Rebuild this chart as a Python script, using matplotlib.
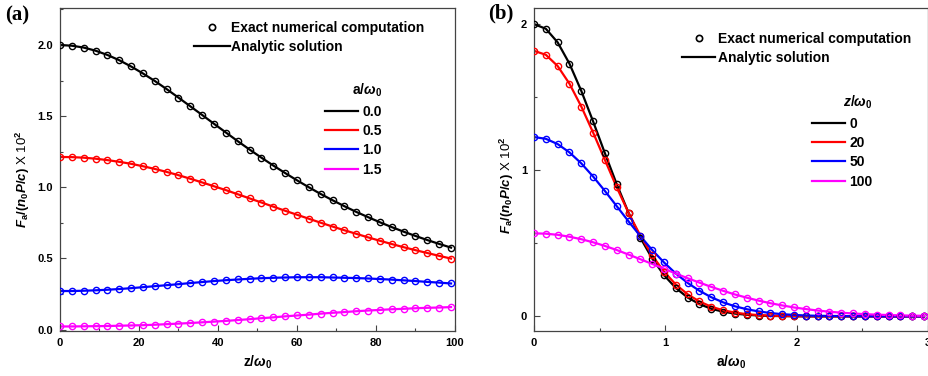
import numpy as np
import matplotlib
matplotlib.use('Agg')
import matplotlib.pyplot as plt
from matplotlib.lines import Line2D
from matplotlib.ticker import MultipleLocator

plt.rcParams['font.family'] = ['Liberation Sans', 'DejaVu Sans']
plt.rcParams['font.weight'] = 'bold'
plt.rcParams['mathtext.fontset'] = 'custom'
plt.rcParams['mathtext.rm'] = 'Liberation Sans:bold'
plt.rcParams['mathtext.it'] = 'Liberation Sans:italic:bold'
plt.rcParams['mathtext.bf'] = 'Liberation Sans:bold'

# ---- panel (a): force vs z/w0 for several a/w0 ----
z_pos = [0, 3, 6, 9, 12, 15, 18, 21, 24, 27, 30, 33, 36, 39, 42, 45, 48,
         51, 54, 57, 60, 63, 66, 69, 72, 75, 78, 81, 84, 87, 90, 93, 96, 99]
a_labels = ['0.0', '0.5', '1.0', '1.5']
fa_a00 = [2.000, 1.995, 1.982, 1.960, 1.930, 1.893, 1.849, 1.800, 1.747, 1.690,
          1.630, 1.569, 1.508, 1.446, 1.385, 1.324, 1.265, 1.208, 1.153, 1.100,
          1.049, 1.000, 0.953, 0.909, 0.867, 0.827, 0.790, 0.754, 0.720, 0.688,
          0.658, 0.629, 0.602, 0.576]
fa_a05 = [1.213, 1.212, 1.208, 1.201, 1.191, 1.179, 1.165, 1.148, 1.129, 1.108,
          1.085, 1.060, 1.034, 1.007, 0.980, 0.951, 0.922, 0.893, 0.864, 0.835,
          0.807, 0.779, 0.751, 0.724, 0.698, 0.673, 0.648, 0.624, 0.601, 0.579,
          0.558, 0.538, 0.518, 0.499]
fa_a10 = [0.271, 0.271, 0.273, 0.276, 0.280, 0.285, 0.291, 0.298, 0.305, 0.312,
          0.319, 0.327, 0.334, 0.341, 0.347, 0.352, 0.357, 0.361, 0.364, 0.366,
          0.368, 0.368, 0.368, 0.366, 0.364, 0.362, 0.359, 0.355, 0.351, 0.346,
          0.341, 0.335, 0.330, 0.324]
fa_a15 = [0.022, 0.022, 0.023, 0.024, 0.025, 0.027, 0.029, 0.031, 0.034, 0.038,
          0.042, 0.046, 0.051, 0.056, 0.061, 0.067, 0.073, 0.080, 0.086, 0.093,
          0.099, 0.105, 0.112, 0.118, 0.123, 0.129, 0.134, 0.138, 0.143, 0.146,
          0.150, 0.153, 0.155, 0.158]

# ---- panel (b): force vs a/w0 for several z/w0 ----
a_pos = [0.00, 0.09, 0.18, 0.27, 0.36, 0.45, 0.54, 0.63, 0.72, 0.81, 0.90,
         0.99, 1.08, 1.17, 1.26, 1.35, 1.44, 1.53, 1.62, 1.71, 1.80, 1.89,
         1.98, 2.07, 2.16, 2.25, 2.34, 2.43, 2.52, 2.61, 2.70, 2.79, 2.88, 2.97]
z_labels = ['0', '20', '50', '100']
fb_z0 = [2.000, 1.968, 1.875, 1.729, 1.543, 1.334, 1.116, 0.904, 0.709, 0.538,
         0.396, 0.282, 0.194, 0.129, 0.084, 0.052, 0.032, 0.019, 0.011, 0.006,
         0.003, 0.002, 0.001, 0.000, 0.000, 0.000, 0.000, 0.000, 0.000, 0.000,
         0.000, 0.000, 0.000, 0.000]
fb_z20 = [1.817, 1.790, 1.713, 1.592, 1.436, 1.258, 1.070, 0.883, 0.708, 0.552,
          0.417, 0.306, 0.218, 0.151, 0.102, 0.066, 0.042, 0.026, 0.015, 0.009,
          0.005, 0.003, 0.002, 0.001, 0.000, 0.000, 0.000, 0.000, 0.000, 0.000,
          0.000, 0.000, 0.000, 0.000]
fb_z50 = [1.227, 1.215, 1.179, 1.122, 1.047, 0.957, 0.858, 0.754, 0.650, 0.549,
          0.454, 0.369, 0.293, 0.229, 0.175, 0.131, 0.096, 0.069, 0.049, 0.034,
          0.023, 0.015, 0.010, 0.006, 0.004, 0.003, 0.002, 0.001, 0.001, 0.000,
          0.000, 0.000, 0.000, 0.000]
fb_z100 = [0.568, 0.566, 0.558, 0.545, 0.528, 0.507, 0.482, 0.454, 0.423, 0.391,
           0.359, 0.326, 0.293, 0.261, 0.231, 0.202, 0.175, 0.150, 0.128, 0.108,
           0.090, 0.075, 0.061, 0.050, 0.040, 0.032, 0.025, 0.020, 0.015, 0.012,
           0.009, 0.007, 0.005, 0.004]

colors = ['black', 'red', 'blue', 'magenta']
W, H = 929, 376


def style_axes(ax):
    for sp in ax.spines.values():
        sp.set_color('#444444')
        sp.set_linewidth(0.9)
    ax.tick_params(which='both', direction='in', top=False, right=False,
                   labelsize=8, pad=5, color='#444444')
    ax.tick_params(which='major', length=4.5, width=0.8)
    ax.tick_params(which='minor', length=2.5, width=0.8)
    for lab in ax.get_xticklabels() + ax.get_yticklabels():
        lab.set_fontweight('bold')


def plot_curves(ax, x, series):
    for y, c in zip(series, colors):
        ax.plot(x, y, '-', color=c, lw=1.6, zorder=2)
        ax.plot(x, y, 'o', mfc='none', mec=c, ms=4.5, mew=1.0, zorder=3)


def add_legends(ax, title, labels, p1, p2, hl1, htp1):
    h1 = [Line2D([], [], ls='none', marker='o', mfc='none', mec='black', ms=4.5, mew=1.2),
          Line2D([], [], color='black', lw=1.6)]
    leg1 = ax.legend(h1, ['Exact numerical computation', 'Analytic solution'],
                     loc='upper left', bbox_to_anchor=(p1[0] / W, 1 - p1[1] / H),
                     bbox_transform=ax.figure.transFigure, frameon=False,
                     borderpad=0, borderaxespad=0, handlelength=hl1,
                     handletextpad=htp1, labelspacing=0.38,
                     prop={'size': 10, 'weight': 'bold'})
    ax.add_artist(leg1)
    h2 = [Line2D([], [], color=c, lw=1.6) for c in colors]
    ax.legend(h2, labels, title=title, loc='upper left',
              bbox_to_anchor=(p2[0] / W, 1 - p2[1] / H),
              bbox_transform=ax.figure.transFigure, frameon=False,
              borderpad=0, borderaxespad=0, handlelength=2.4,
              handletextpad=0.3, labelspacing=0.38, alignment='right',
              prop={'size': 10, 'weight': 'bold'},
              title_fontproperties={'size': 10, 'weight': 'bold'})


fig = plt.figure(figsize=(9.29, 3.76), dpi=100)
ylab = r'$F_\mathbf{a}\mathbf{/(}n_\mathbf{0}P\mathbf{/}c\mathbf{)}$' + ' X 10$^\\mathrm{2}$'

# ---- (a) ----
ax1 = fig.add_axes([60 / W, 1 - 331 / H, 395 / W, 323 / H])
plot_curves(ax1, z_pos, [fa_a00, fa_a05, fa_a10, fa_a15])
ax1.set_xlim(0, 100)
ax1.set_ylim(-0.01, 2.26)
ax1.xaxis.set_major_locator(MultipleLocator(20))
ax1.xaxis.set_minor_locator(MultipleLocator(10))
ax1.yaxis.set_major_locator(MultipleLocator(0.5))
ax1.yaxis.set_minor_locator(MultipleLocator(0.25))
ax1.yaxis.set_major_formatter(plt.FormatStrFormatter('%.1f'))
ax1.set_xlabel(r'$\mathbf{z/}\omega_\mathbf{0}$', fontsize=10)
ax1.set_ylabel(ylab, fontsize=9.5, fontweight='normal')
ax1.yaxis.set_label_coords(-0.07, 0.47)
style_axes(ax1)
add_legends(ax1, r'$\mathbf{a/}\omega_\mathbf{0}$', a_labels,
            (194, 21), (325, 82), 2.6, 0.1)
fig.text(5 / W, 1 - 15 / H, '(a)', family='Liberation Serif', fontsize=15,
         fontweight='bold', va='center', ha='left')

# ---- (b) ----
ax2 = fig.add_axes([534 / W, 1 - 331 / H, 394 / W, 323 / H])
plot_curves(ax2, a_pos, [fb_z0, fb_z20, fb_z50, fb_z100])
ax2.set_xlim(0, 3)
ax2.set_ylim(-0.1, 2.11)
ax2.xaxis.set_major_locator(MultipleLocator(1))
ax2.xaxis.set_minor_locator(MultipleLocator(0.5))
ax2.yaxis.set_major_locator(MultipleLocator(1))
ax2.yaxis.set_minor_locator(MultipleLocator(0.5))
ax2.set_xlabel(r'$\mathbf{a/}\omega_\mathbf{0}$', fontsize=10)
ax2.set_ylabel(ylab, fontsize=9.5, fontweight='normal')
ax2.yaxis.set_label_coords(-0.045, 0.45)
style_axes(ax2)
add_legends(ax2, r'$z\mathbf{/}\omega_\mathbf{0}$', z_labels,
            (682, 32), (812, 94), 2.4, 0.2)
fig.text(488 / W, 1 - 13 / H, '(b)', family='Liberation Serif', fontsize=15,
         fontweight='bold', va='center', ha='left')

fig.savefig('out.png', dpi=100)
